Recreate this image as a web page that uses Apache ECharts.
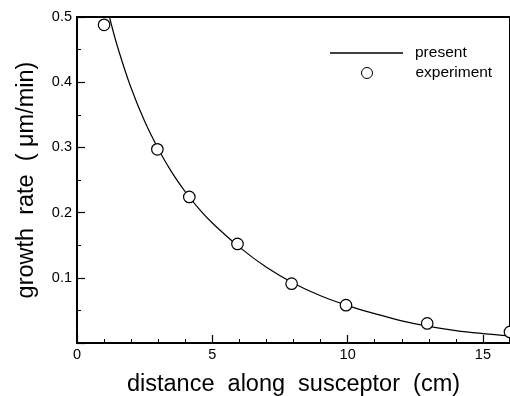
<!DOCTYPE html>
<html>
<head>
<meta charset="utf-8">
<script src="https://cdn.jsdelivr.net/npm/echarts@6/dist/echarts.min.js"></script>
<style>
html, body { margin: 0; padding: 0; background: #fff; }
#chart { width: 510px; height: 396px; }
</style>
</head>
<body>
<div id="chart"></div>
<script>
// growth rate along susceptor: model curve + measured points
var curveX = [1.2, 1.5, 2, 2.5, 3, 3.5, 4, 4.5, 5, 6, 7, 8, 9, 10, 11, 12, 13, 14, 15, 16];
var curveY = [0.5, 0.454, 0.391, 0.340, 0.298, 0.262, 0.232, 0.206, 0.184, 0.147, 0.116, 0.0916, 0.0724, 0.0573, 0.045, 0.034, 0.0255, 0.019, 0.0145, 0.011];
var expX = [1.0, 2.97, 4.15, 5.93, 7.93, 9.94, 12.94, 16.0];
var expY = [0.488, 0.297, 0.224, 0.152, 0.091, 0.058, 0.030, 0.017];
var seriesNames = ['present', 'experiment'];

var fontName = "'Liberation Sans', Arial, Helvetica, sans-serif";

function pairs(xs, ys) {
	var out = [];
	for (var i = 0; i < xs.length; i++) {
		out.push([xs[i], ys[i]]);
	}
	return out;
}

var chart = echarts.init(document.getElementById('chart'), null, { renderer: 'canvas' });
var option = {
	backgroundColor: '#fff',
	animation: false,
	textStyle: { fontFamily: fontName, color: '#000' },
	grid: {
		left: 77,
		top: 17,
		right: 0,
		bottom: 53,
		show: true,
		borderColor: '#000',
		borderWidth: 2,
		backgroundColor: 'transparent',
		outerBoundsMode: 'none'
	},
	legend: [{
		data: [{ name: seriesNames[0], icon: 'rect' }],
		left: 330,
		top: 45,
		padding: 0,
		itemWidth: 73,
		itemHeight: 1.4,
		textStyle: { fontFamily: fontName, fontSize: 15.5, color: '#000', padding: [0, 0, 0, 7] }
	}, {
		data: [{ name: seriesNames[1], icon: 'circle' }],
		left: 361,
		top: 65,
		padding: 0,
		itemWidth: 11,
		itemHeight: 11,
		itemStyle: { color: '#fff', borderColor: '#000', borderWidth: 1 },
		textStyle: { fontFamily: fontName, fontSize: 15.5, color: '#000', padding: [0, 0, 0, 38] }
	}],
	xAxis: {
		type: 'value',
		min: 0,
		max: 16,
		interval: 5,
		name: 'distance  along  susceptor  (cm)',
		nameLocation: 'middle',
		nameGap: 30,
		nameTextStyle: { fontFamily: fontName, fontSize: 23.5, color: '#000' },
		axisLine: { show: true, onZero: false, lineStyle: { color: '#000', width: 2 } },
		axisTick: { show: true, inside: true, length: 8, lineStyle: { color: '#000', width: 1.2 } },
		minorTick: { show: true, splitNumber: 5, length: 4, lineStyle: { color: '#000', width: 1 } },
		axisLabel: { showMaxLabel: false, margin: 4, fontFamily: fontName, fontSize: 14.5, color: '#000' },
		splitLine: { show: false },
		minorSplitLine: { show: false }
	},
	yAxis: {
		type: 'value',
		min: 0,
		max: 0.5,
		interval: 0.1,
		name: 'growth  rate  ( μm/min)',
		nameLocation: 'middle',
		nameGap: 38,
		nameTextStyle: { fontFamily: fontName, fontSize: 23.5, color: '#000' },
		axisLine: { show: true, onZero: false, lineStyle: { color: '#000', width: 2 } },
		axisTick: { show: true, inside: true, length: 8, lineStyle: { color: '#000', width: 1.2 } },
		minorTick: { show: true, splitNumber: 2, length: 4, lineStyle: { color: '#000', width: 1 } },
		axisLabel: {
			showMinLabel: false,
			margin: 5,
			fontFamily: fontName,
			fontSize: 14.5,
			color: '#000',
			formatter: function(v) { return v.toFixed(1); }
		},
		splitLine: { show: false },
		minorSplitLine: { show: false }
	},
	series: [{
		name: seriesNames[0],
		type: 'line',
		data: pairs(curveX, curveY),
		showSymbol: false,
		symbol: 'none',
		smooth: 0.4,
		color: '#000',
		lineStyle: { color: '#000', width: 1.2 },
		z: 2
	}, {
		name: seriesNames[1],
		type: 'scatter',
		data: pairs(expX, expY),
		symbol: 'circle',
		symbolSize: 11.5,
		itemStyle: { color: '#fff', borderColor: '#000', borderWidth: 1.2, opacity: 1 },
		z: 3
	}]
};
chart.setOption(option);
</script>
</body>
</html>
